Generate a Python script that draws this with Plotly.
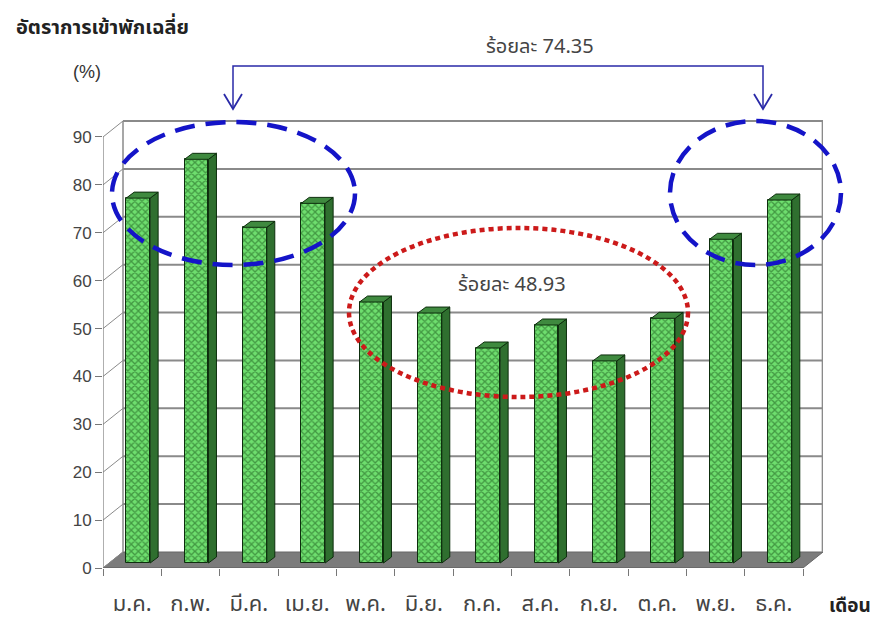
import plotly.graph_objects as go

# Monthly average occupancy rate (%)
months = ["ม.ค.", "ก.พ.", "มี.ค.", "เม.ย.", "พ.ค.", "มิ.ย.",
          "ก.ค.", "ส.ค.", "ก.ย.", "ต.ค.", "พ.ย.", "ธ.ค."]
occupancy = [76.2, 84.3, 70.1, 75.1, 54.5, 52.2, 44.9, 49.7, 42.2, 51.1, 67.6, 75.8]
y_ticks = [0, 10, 20, 30, 40, 50, 60, 70, 80, 90]

high_label = "ร้อยละ 74.35"
low_label = "ร้อยละ 48.93"

# ---- geometry of the pseudo-3D frame (axis units) ----
W, H = 873, 630
ML, MR, MT, MB = 103, 50, 120, 62
PW, PH = W - ML - MR, H - MT - MB
N = len(months)
X_MAX = PW / (700 / N)            # front floor spans categories 0..12
PX_PER_Y = 4.789
Y_MAX = PH / PX_PER_Y
DEPTH_X = 20 / (700 / N)          # wall depth, horizontal
DEPTH_Y = 16 / PX_PER_Y           # wall depth, vertical
BAR_SHIFT_X = 0.103               # bars sit a little into the depth
BAR_SHIFT_Y = 1.04
BAR_W = 0.41
SIDE_X = 0.137
SIDE_Y = 1.25


def paper_x(px):
    return (px - ML) / PW


def paper_y(py):
    return (MT + PH - py) / PH


grid_col = "#8a8a8a"
shapes = []

# floor
shapes.append(dict(type="path", xref="x", yref="y", layer="below",
                   path=f"M0,0 L{N},0 L{N + DEPTH_X},{DEPTH_Y} L{DEPTH_X},{DEPTH_Y} Z",
                   fillcolor="#7c7c7c", line=dict(color="#666666", width=1)))
# back-wall gridlines and left-wall diagonals
for v in y_ticks:
    if v > 0:
        shapes.append(dict(type="line", xref="x", yref="y", layer="below",
                           x0=DEPTH_X, x1=N + DEPTH_X, y0=v + DEPTH_Y, y1=v + DEPTH_Y,
                           line=dict(color=grid_col, width=2)))
    shapes.append(dict(type="line", xref="x", yref="y", layer="below",
                       x0=0, x1=DEPTH_X, y0=v, y1=v + DEPTH_Y,
                       line=dict(color=grid_col, width=1)))
# wall edges
shapes.append(dict(type="line", xref="x", yref="y", layer="below",
                   x0=DEPTH_X, x1=DEPTH_X, y0=DEPTH_Y, y1=90 + DEPTH_Y,
                   line=dict(color=grid_col, width=1.5)))
shapes.append(dict(type="line", xref="x", yref="y", layer="below",
                   x0=N + DEPTH_X - 0.01, x1=N + DEPTH_X - 0.01, y0=DEPTH_Y, y1=90 + DEPTH_Y,
                   line=dict(color=grid_col, width=1.5)))
# front axis line
shapes.append(dict(type="line", xref="x", yref="y",
                   x0=0, x1=0, y0=0, y1=90, line=dict(color="#7a7a7a", width=1.2)))
shapes.append(dict(type="line", xref="x", yref="y",
                   x0=0, x1=N, y0=0, y1=0, line=dict(color="#666666", width=1.2)))

# highlight ellipses
blue = "#1414c8"
shapes.append(dict(type="circle", xref="paper", yref="paper",
                   x0=paper_x(112), x1=paper_x(355), y0=paper_y(265), y1=paper_y(122),
                   line=dict(color=blue, width=4.5, dash="20px,11px")))
shapes.append(dict(type="circle", xref="paper", yref="paper",
                   x0=paper_x(670), x1=paper_x(841), y0=paper_y(265), y1=paper_y(121),
                   line=dict(color=blue, width=4.5, dash="20px,11px")))
shapes.append(dict(type="circle", xref="paper", yref="paper",
                   x0=paper_x(349), x1=paper_x(688), y0=paper_y(397), y1=paper_y(228),
                   line=dict(color="#cc1a1a", width=4.5, dash="5px,4px")))

# bracket connecting the two high-season groups
arrow_col = "#2a2aa8"
shapes.append(dict(type="path", xref="paper", yref="paper",
                   path=(f"M{paper_x(233)},{paper_y(108)} L{paper_x(233)},{paper_y(66)} "
                         f"L{paper_x(763)},{paper_y(66)} L{paper_x(763)},{paper_y(108)}"),
                   line=dict(color=arrow_col, width=1.5)))
for cx in (233, 763):
    shapes.append(dict(type="path", xref="paper", yref="paper",
                       path=(f"M{paper_x(cx - 9)},{paper_y(94)} L{paper_x(cx)},{paper_y(109)} "
                             f"L{paper_x(cx + 9)},{paper_y(94)}"),
                       line=dict(color=arrow_col, width=1.8)))

fig = go.Figure()

# front faces of the columns
x_front = [i + 0.5 + BAR_SHIFT_X for i in range(N)]
fig.add_trace(go.Bar(
    x=x_front, y=occupancy, base=BAR_SHIFT_Y, width=BAR_W,
    marker=dict(color="#5fd35f",
                line=dict(color="#0d2e0d", width=1),
                pattern=dict(shape="x", size=5, solidity=0.45,
                             fgcolor="#175217", bgcolor="#6ede6e")),
    hovertext=months, showlegend=False))

# right-hand side faces and top faces
sx, sy = [], []
tx, ty = [], []
for i, v in enumerate(occupancy):
    xl = x_front[i] - BAR_W / 2
    xr = x_front[i] + BAR_W / 2
    top = v + BAR_SHIFT_Y
    sx += [xr, xr + SIDE_X, xr + SIDE_X, xr, xr, None]
    sy += [BAR_SHIFT_Y, BAR_SHIFT_Y + SIDE_Y, top + SIDE_Y, top, BAR_SHIFT_Y, None]
    tx += [xl, xl + SIDE_X, xr + SIDE_X, xr, xl, None]
    ty += [top, top + SIDE_Y, top + SIDE_Y, top, top, None]
fig.add_trace(go.Scatter(x=sx, y=sy, mode="lines", fill="toself",
                         fillcolor="#2f6f2f", line=dict(color="#0d2e0d", width=1),
                         hoverinfo="skip", showlegend=False))
fig.add_trace(go.Scatter(x=tx, y=ty, mode="lines", fill="toself",
                         fillcolor="#3f8a3f", line=dict(color="#0d2e0d", width=1),
                         hoverinfo="skip", showlegend=False))

thai = "Tahoma, 'Noto Sans Thai', 'Noto Sans', 'DejaVu Sans', sans-serif"
txt = "#333333"

annotations = [
    dict(text="<b>อัตราการเข้าพักเฉลี่ย</b>", xref="paper", yref="paper",
         x=paper_x(14), y=paper_y(28), xanchor="left", yanchor="middle",
         showarrow=False, font=dict(family=thai, size=20, color="#222222")),
    dict(text="(%)", xref="paper", yref="paper",
         x=paper_x(71), y=paper_y(72), xanchor="left", yanchor="middle",
         showarrow=False, font=dict(family="Liberation Sans, Arial", size=18, color=txt)),
    dict(text="<b>เดือน</b>", xref="paper", yref="paper",
         x=paper_x(873), y=paper_y(606), xanchor="right", yanchor="middle",
         showarrow=False, font=dict(family=thai, size=19, color="#222222")),
    dict(text=high_label, xref="paper", yref="paper",
         x=paper_x(540), y=paper_y(47), xanchor="center", yanchor="middle",
         showarrow=False, font=dict(family=thai, size=20, color="#444444")),
    dict(text=low_label, xref="paper", yref="paper",
         x=paper_x(512), y=paper_y(285), xanchor="center", yanchor="middle",
         showarrow=False, font=dict(family=thai, size=20, color="#444444")),
]

fig.update_layout(
    width=W, height=H,
    margin=dict(l=ML, r=MR, t=MT, b=MB),
    paper_bgcolor="white", plot_bgcolor="white",
    shapes=shapes, annotations=annotations,
    bargap=0,
    xaxis=dict(range=[0, X_MAX], showgrid=False, zeroline=False, showline=False,
               automargin=False,
               tickvals=[i + 0.5 for i in range(N)], ticktext=months,
               ticks="", ticklabelstandoff=20,
               tickfont=dict(family=thai, size=22, color="#444444"),
               minor=dict(tickvals=list(range(N + 1)), ticks="outside",
                          ticklen=7, tickcolor="#777777", tickwidth=1)),
    yaxis=dict(range=[0, Y_MAX], showgrid=False, zeroline=False, showline=False,
               automargin=False,
               tickvals=y_ticks, ticks="outside", ticklen=7, tickcolor="#777777",
               tickfont=dict(family="Liberation Sans, Arial", size=17, color="#444444")),
)

fig.write_html("out.html")
